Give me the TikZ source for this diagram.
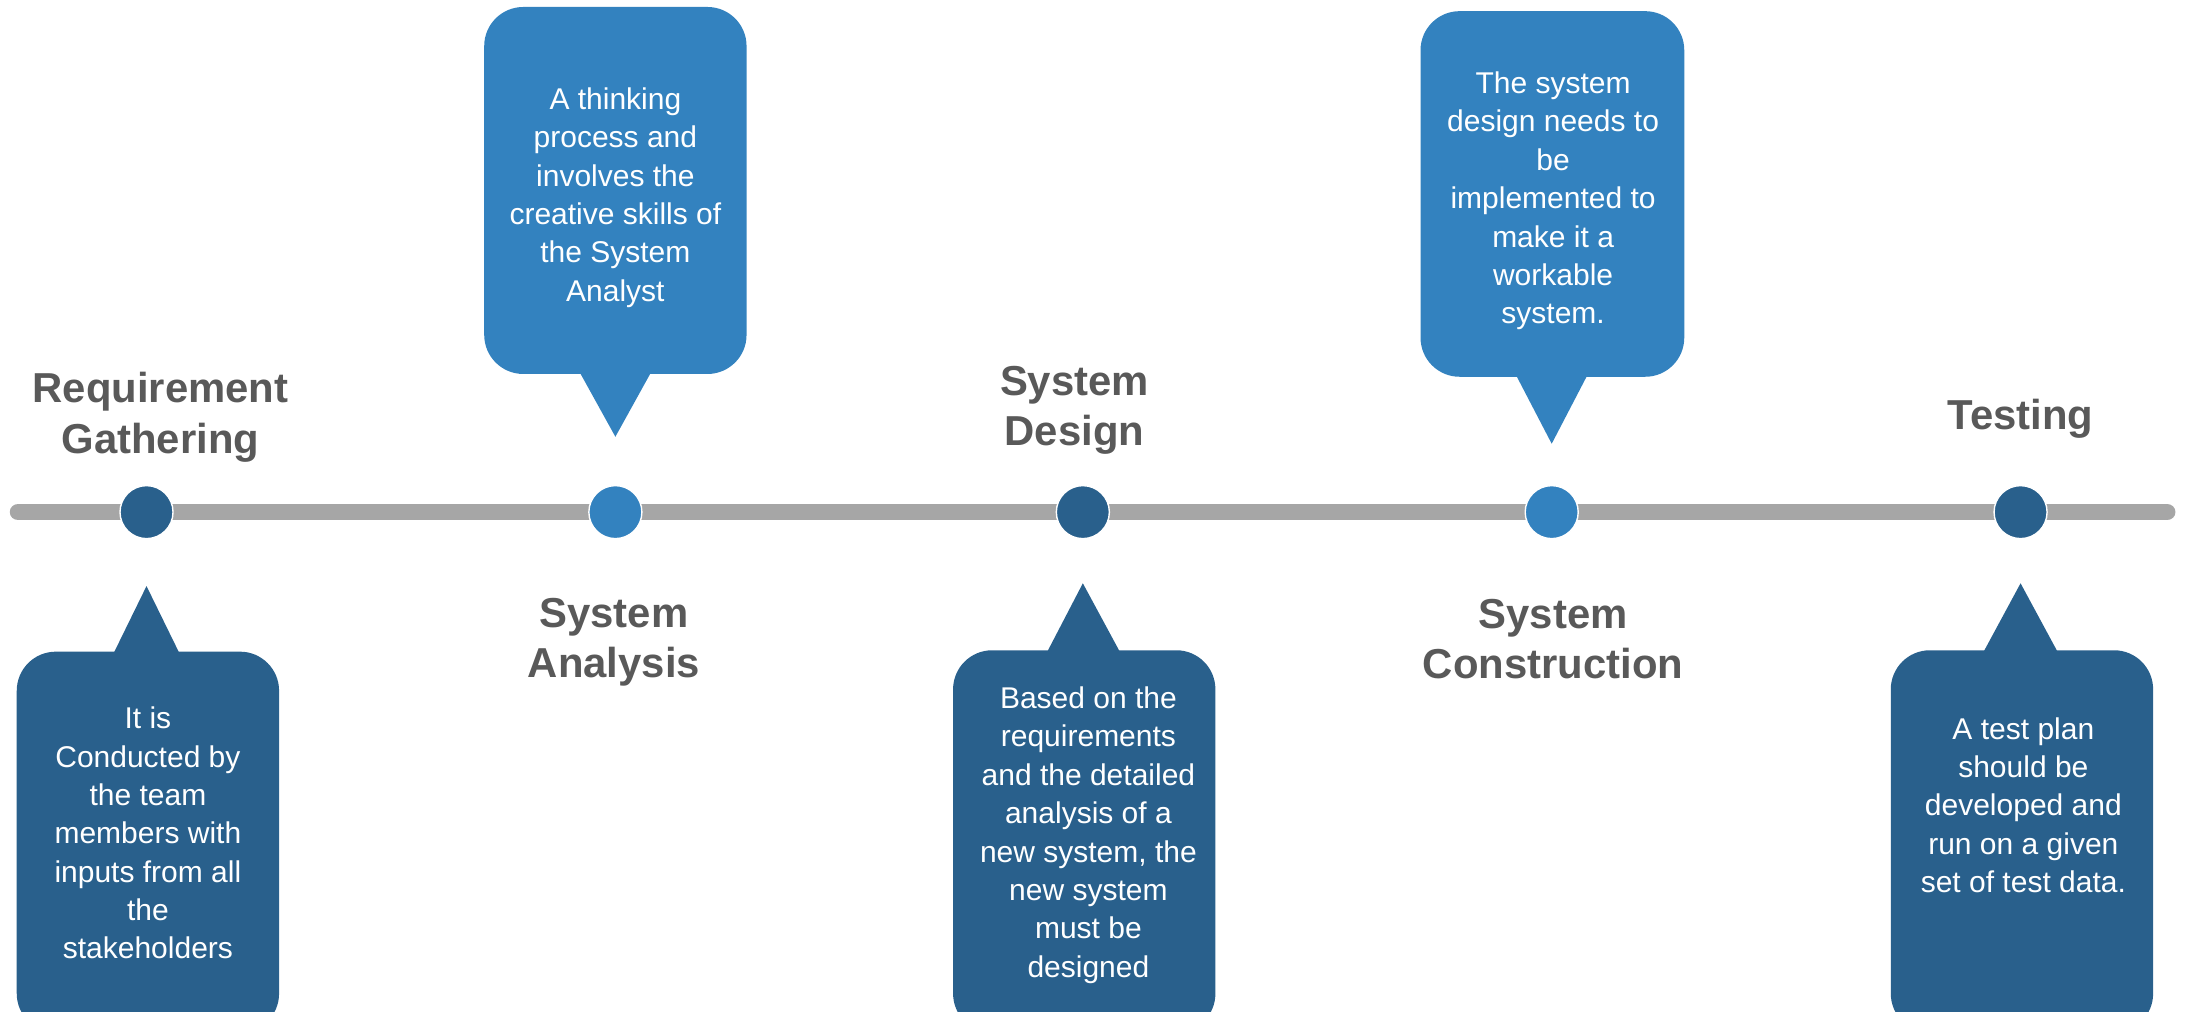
\documentclass[tikz,border=0pt]{standalone}
\usepackage{fontspec}
\setmainfont{Liberation Sans}
\definecolor{dk}{HTML}{29608C}
\definecolor{lt}{HTML}{3382BF}
\definecolor{lbl}{HTML}{595959}
\definecolor{tln}{HTML}{A6A6A6}
\begin{document}
\begin{tikzpicture}[x=1pt,y=-1pt,
  stage/.style={font=\fontsize{30}{36}\selectfont\bfseries, text=lbl, align=center, inner sep=0pt},
  note/.style={font=\fontsize{21.5}{27.5}\selectfont, text=white, align=center, inner sep=0pt},
  dot/.style={circle, minimum size=38pt, inner sep=0pt, draw=white, line width=1pt},
  bubble/.style={rounded corners=28pt},
]
\useasboundingbox (0,0) rectangle (1568,725);
% timeline
\coordinate (tl) at (13,367);
\coordinate (tr) at (1553,367);
\draw[tln, line width=12pt, line cap=round] (tl) -- (tr);
% dots
\node[dot, fill=dk] (d1) at (105,367) {};
\node[dot, fill=lt] (d2) at (441,367) {};
\node[dot, fill=dk] (d3) at (776,367) {};
\node[dot, fill=lt] (d4) at (1112,367) {};
\node[dot, fill=dk] (d5) at (1448,367) {};
% stage labels
\node[stage] (l1) at (115,299) {Requirement\\Gathering};
\node[stage] (l2) at (440,460) {System\\Analysis};
\node[stage] (l3) at (770,294) {System\\Design};
\node[stage] (l4) at (1113,458) {System\\Construction};
\node[stage] (l5) at (1448,300) {Testing};
% callout 1
\fill[dk, bubble] (12,467) rectangle (200,740);
\fill[dk] (81,469) -- (129,469) -- (105,420) -- cycle;
\node[note] (n1) at (106,597) {It is\\Conducted by\\the team\\members with\\inputs from all\\the\\stakeholders};
% callout 2
\fill[lt, bubble] (347,5) rectangle (535,268);
\fill[lt] (415,266) -- (467,266) -- (441,313) -- cycle;
\node[note] (n2) at (441,141.5) {A thinking\\process and\\involves the\\creative skills of\\the System\\Analyst};
% callout 3
\fill[dk, bubble] (683,466) rectangle (871,740);
\fill[dk] (750,468) -- (803,468) -- (776,418) -- cycle;
\node[note] (n3) at (780,598.5) {Based on the\\requirements\\and the detailed\\analysis of a\\new system, the\\new system\\must be\\designed};
% callout 4
\fill[lt, bubble] (1018,8) rectangle (1207,270);
\fill[lt] (1086,268) -- (1138,268) -- (1112,318) -- cycle;
\node[note] (n4) at (1113,144) {The system\\design needs to\\be\\implemented to\\make it a\\workable\\system.};
% callout 5
\fill[dk, bubble] (1355,466) rectangle (1543,740);
\fill[dk] (1421,468) -- (1475,468) -- (1448,418) -- cycle;
\node[note] (n5) at (1450,577) {A test plan\\should be\\developed and\\run on a given\\set of test data.};
\end{tikzpicture}
\end{document}
